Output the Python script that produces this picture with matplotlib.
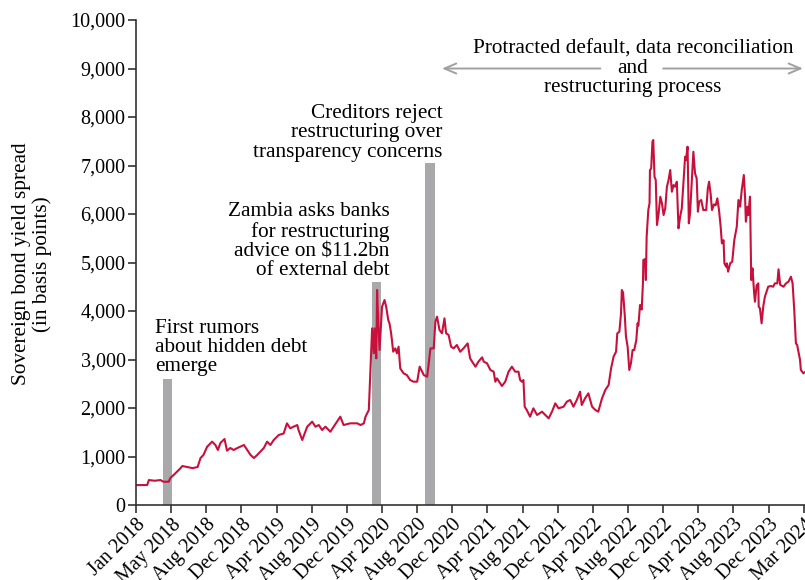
import matplotlib
matplotlib.use('Agg')
import matplotlib.pyplot as plt
import numpy as np

plt.rcParams['font.family'] = ['Liberation Serif', 'DejaVu Serif']

# 交易日序号（自2018年1月起）与主权债券利差（基点）
obs_day = [0, 27, 31, 45, 59, 66, 79, 83, 91, 108, 112, 124, 137, 149, 156, 163, 172, 184, 192, 198,
           204, 214, 220, 228, 236, 245, 261, 269, 277, 285, 293, 309, 317, 325, 333, 345, 357, 365, 373, 381,
           390, 393, 402, 414, 426, 434, 442, 450, 458, 470, 478, 486, 494, 502, 518, 535, 543, 551, 555, 563,
           567, 571, 575, 577, 581, 583, 586, 589, 595, 601, 605, 610, 613, 617, 622, 627, 631, 635, 639, 647,
           655, 663, 671, 680, 686, 690, 696, 704, 708, 712, 720, 724, 728, 734, 740, 746, 750, 756, 762, 768,
           776, 784, 792, 802, 808, 813, 821, 828, 837, 841, 849, 857, 865, 869, 873, 885, 893, 901, 909, 917,
           925, 929, 933, 937, 940, 945, 953, 961, 970, 982, 990, 998, 1006, 1014, 1022, 1034, 1042, 1050, 1058, 1066,
           1074, 1078, 1086, 1094, 1103, 1111, 1118, 1127, 1135, 1143, 1149, 1155, 1161, 1164, 1169, 1173, 1175, 1178, 1182, 1185,
           1189, 1193, 1197, 1201, 1205, 1210, 1213, 1215, 1219, 1223, 1226, 1227, 1231, 1233, 1235, 1239, 1242, 1243, 1246, 1249,
           1251, 1254, 1257, 1260, 1264, 1268, 1272, 1276, 1280, 1284, 1288, 1292, 1296, 1300, 1304, 1308, 1312, 1316, 1320, 1324,
           1328, 1330, 1334, 1337, 1340, 1344, 1348, 1352, 1356, 1359, 1362, 1367, 1372, 1379, 1383, 1386, 1390, 1393, 1398, 1402,
           1406, 1410, 1414, 1417, 1421, 1423, 1427, 1429, 1432, 1437, 1442, 1447, 1453, 1457, 1461, 1465, 1470, 1473, 1475, 1479,
           1481, 1485, 1488, 1491, 1495, 1497, 1501, 1505, 1506, 1509, 1513, 1517, 1521, 1525, 1529, 1535, 1541, 1545, 1551, 1554,
           1558, 1566, 1572, 1578, 1584, 1588, 1592, 1596, 1599, 1603, 1606, 1608, 1614, 1618]
spread = [410, 412, 515, 500, 515, 480, 480, 557, 619, 763, 804, 784, 760, 784, 969, 1031, 1202, 1306, 1237, 1134,
          1278, 1361, 1120, 1175, 1134, 1175, 1237, 1134, 1031, 969, 1031, 1175, 1306, 1237, 1340, 1443, 1475, 1684, 1581, 1615,
          1649, 1546, 1340, 1615, 1718, 1615, 1649, 1546, 1615, 1511, 1615, 1718, 1821, 1649, 1684, 1684, 1649, 1684, 1821, 1959,
          2784, 3643, 3128, 3643, 3024, 4433, 3746, 3196, 4089, 4227, 4089, 3814, 3746, 3540, 3161, 3230, 3128, 3264, 2818, 2715,
          2680, 2577, 2543, 2543, 2852, 2784, 2680, 2646, 2921, 3230, 3230, 3780, 3883, 3608, 3540, 3849, 3540, 3506, 3264, 3230,
          3299, 3160, 3230, 3333, 3024, 2955, 2852, 2955, 3045, 2955, 2921, 2784, 2749, 2543, 2611, 2454, 2543, 2749, 2852, 2749,
          2749, 2577, 2543, 2577, 2027, 1959, 1821, 1993, 1856, 1924, 1856, 1787, 1924, 2096, 1993, 2027, 2131, 2165, 2027, 2165,
          2337, 2062, 2199, 2302, 2027, 1959, 1924, 2199, 2371, 2474, 2818, 3058, 3161, 3540, 3574, 3952, 4433, 4380, 3918, 3470,
          3264, 2784, 2921, 3196, 3196, 3402, 3746, 3700, 4124, 4030, 4570, 5052, 5070, 4639, 5532, 6082, 6220, 6907, 6940, 7491,
          7526, 6770, 6700, 5773, 6015, 6357, 6220, 5979, 6117, 6563, 6700, 6907, 6460, 6597, 6563, 6666, 5705, 5945, 6117, 6632,
          7181, 7110, 7388, 5808, 6015, 6632, 7284, 6838, 6735, 6048, 6254, 6288, 6082, 6082, 6529, 6666, 6400, 6082, 6200, 6180,
          6323, 6082, 5739, 5395, 5460, 4983, 4915, 4983, 4811, 4983, 5018, 5464, 5739, 6288, 6150, 6495, 6804, 6357, 5842, 6150,
          5980, 6357, 4639, 4880, 4365, 4192, 4530, 4570, 4089, 4055, 3746, 4089, 4295, 4398, 4501, 4515, 4501, 4570, 4570, 4860,
          4540, 4501, 4570, 4605, 4708, 4570, 4021, 3333, 3300, 3127, 2990, 2784, 2715, 2740]

# 事件柱（交易日序号、高度）
event_day = [75, 582, 711]
event_height = [2600, 4600, 7050]

tick_labels = ['Jan 2018', 'May 2018', 'Aug 2018', 'Dec 2018', 'Apr 2019', 'Aug 2019', 'Dec 2019',
               'Apr 2020', 'Aug 2020', 'Dec 2020', 'Apr 2021', 'Aug 2021', 'Dec 2021', 'Apr 2022',
               'Aug 2022', 'Dec 2022', 'Apr 2023', 'Aug 2023', 'Dec 2023', 'Mar 2024']
tick_step = 85

fig = plt.figure(figsize=(8.05, 5.8), dpi=100)
ax = fig.add_axes([0.169, 0.1293, 0.831, 0.8362])

ax.bar(event_day, event_height, width=22, color='#a9a8ab', zorder=1)
ax.plot(obs_day, spread, color='#c8103c', linewidth=1.5, zorder=2)

fs = 15.3
ls = 1.03
ax.text(47, 2650, 'First rumors\nabout hidden debt\nemerge', ha='left', va='bottom',
        fontsize=fs, linespacing=ls)
ax.text(613, 4630, 'Zambia asks banks\nfor restructuring\nadvice on $11.2bn\nof external debt',
        ha='right', va='bottom', ma='right', fontsize=fs, linespacing=ls)
ax.text(741, 7080, 'Creditors reject\nrestructuring over\ntransparency concerns',
        ha='right', va='bottom', ma='right', fontsize=fs, linespacing=ls)
ax.text(1202, 9000, 'Protracted default, data reconciliation\nand\nrestructuring process',
        ha='center', va='center', ma='center', fontsize=fs, linespacing=ls)

arrow = dict(arrowstyle='->,head_length=0.85,head_width=0.36', color='#a0a0a0', lw=1.4,
             shrinkA=0, shrinkB=0)
ax.annotate('', xy=(740, 9000), xytext=(1123, 9000), arrowprops=arrow)
ax.annotate('', xy=(1613, 9000), xytext=(1275, 9000), arrowprops=arrow)

ax.set_xlim(0, 1618)
ax.set_ylim(0, 10000)
ax.set_xticks(np.arange(len(tick_labels)) * tick_step)
ax.set_xticklabels(tick_labels, rotation=45, ha='right', rotation_mode='anchor')
ax.set_yticks(np.arange(0, 10001, 1000))
ax.set_yticklabels([f'{v:,}' for v in range(0, 10001, 1000)])

for side in ['top', 'right']:
    ax.spines[side].set_visible(False)
for side in ['left', 'bottom']:
    ax.spines[side].set_color('#333333')
    ax.spines[side].set_linewidth(1.2)
ax.tick_params(axis='both', colors='#333333', labelcolor='black', labelsize=14.5,
               length=5.5, width=1.2, pad=2)

fig.text(32 / 805, 1 - 264 / 580, 'Sovereign bond yield spread\n(in basis points)', rotation=90,
         ha='center', va='center', ma='center', fontsize=fs, linespacing=1.05)

plt.savefig('out.png', dpi=100)
plt.close()
